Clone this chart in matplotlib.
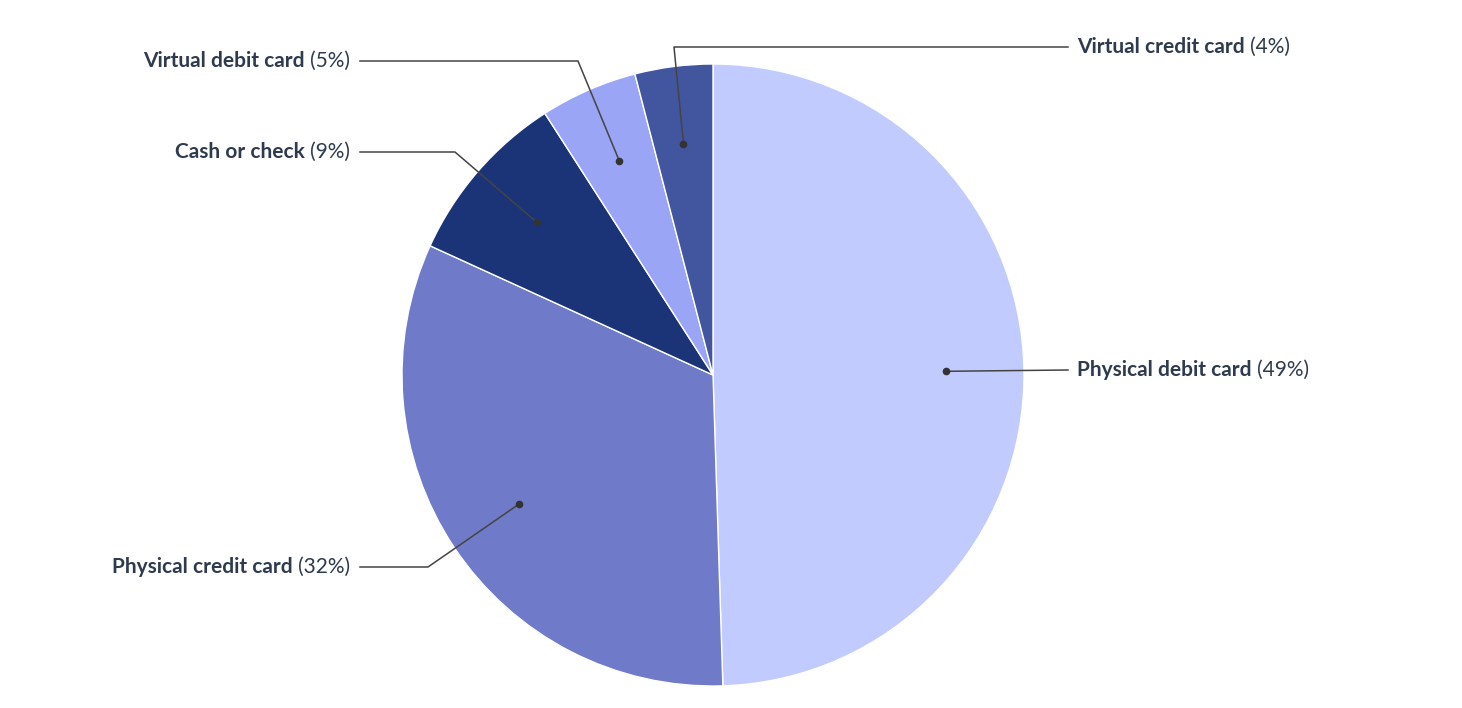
import matplotlib.pyplot as plt
import numpy as np

labels = ["Physical debit card", "Physical credit card", "Cash or check", "Virtual debit card", "Virtual credit card"]
values = [49, 32, 9, 5, 4]
colors = ["#C1CBFD", "#6F7BC8", "#1B3478", "#9AA5F5", "#42559F"]

# label layout in pixel coords (x of text edge, y, elbow x, side)
label_pos = [(1077, 370, 1068, "left"), (350, 567, 428, "right"), (350, 152, 455, "right"),
             (350, 61, 578, "right"), (1077, 47, 674, "left")]

W, H = 1462, 708
fig = plt.figure(figsize=(W / 100, H / 100), dpi=100)
ax = fig.add_axes([0, 0, 1, 1])
ax.set_xlim(0, W)
ax.set_ylim(0, H)
ax.set_aspect("equal")
ax.axis("off")

cx, cy, r = 713, H - 375, 311
wedges, _ = ax.pie(values, colors=colors, startangle=90, counterclock=False,
                   center=(cx, cy), radius=r, frame=True,
                   wedgeprops=dict(edgecolor="white", linewidth=1))
ax.set_xlim(0, W)
ax.set_ylim(0, H)
ax.axis("off")

tc = "#2E3B4E"
fig.canvas.draw()
rend = fig.canvas.get_renderer()
for w, lab, v, (tx, ty, ex, side) in zip(wedges, labels, values, label_pos):
    ang = np.deg2rad((w.theta1 + w.theta2) / 2)
    dx, dy = cx + 0.75 * r * np.cos(ang), cy + 0.75 * r * np.sin(ang)
    yy = H - ty
    ax.plot([dx], [dy], "o", color="#333333", ms=4.5, zorder=5)
    lx = tx - 9 if side == "left" else tx + 10
    ax.plot([lx, ex, dx], [yy, yy, dy], color="#444444", lw=1.1, zorder=4)
    if side == "left":
        t1 = ax.text(tx, yy, lab, fontsize=15, fontweight="bold", family="Lato", color=tc, ha="left", va="center")
        bb = t1.get_window_extent(rend)
        ax.text(bb.x1 + 5, yy, f"({v}%)", fontsize=15, family="Lato", color=tc, ha="left", va="center")
    else:
        t2 = ax.text(tx, yy, f"({v}%)", fontsize=15, family="Lato", color=tc, ha="right", va="center")
        bb = t2.get_window_extent(rend)
        ax.text(bb.x0 - 5, yy, lab, fontsize=15, fontweight="bold", family="Lato", color=tc, ha="right", va="center")

fig.savefig("out.png", dpi=100)
